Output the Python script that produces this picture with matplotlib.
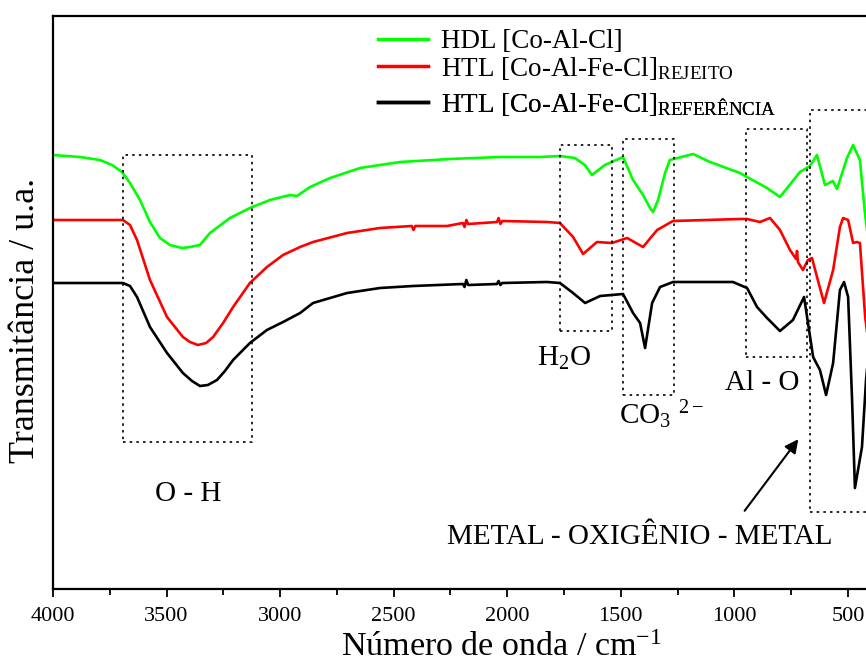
import matplotlib
matplotlib.use("Agg")
import matplotlib.pyplot as plt

plt.rcParams['font.family'] = ['Liberation Serif', 'DejaVu Serif']
plt.rcParams['mathtext.fontset'] = 'custom'
plt.rcParams['mathtext.rm'] = 'Liberation Serif'
plt.rcParams['mathtext.it'] = 'Liberation Serif:italic'

# ---- data (wavenumber cm-1, transmittance a.u.) ----
wn_hdl = [4000, 3881, 3793, 3740, 3696, 3661, 3617, 3573, 3529, 3485, 3432, 3397, 3353, 3309,
          3221, 3133, 3045, 2956, 2926, 2868, 2780, 2648, 2472, 2252, 2032, 1856, 1768,
          1702, 1658, 1627, 1570, 1490, 1446, 1402, 1371, 1358, 1336, 1305, 1284, 1182,
          1107, 975, 944, 856, 799, 711, 667, 636, 601, 566, 548, 504, 477, 447, 425, 400]
t_hdl = [434, 432, 429, 424, 417, 406, 389, 367, 351, 344, 341, 342, 344, 356,
         371, 381, 389, 394, 393, 402, 411, 421, 427, 430, 432, 432, 433,
         431, 424, 414, 424, 432, 409, 394, 381, 377, 389, 416, 429, 435,
         427, 416, 412, 401, 392, 417, 423, 434, 404, 408, 400, 431, 444, 429, 376, 330]

wn_rej = [4000, 3692, 3661, 3630, 3573, 3498, 3428, 3397, 3362, 3326, 3295, 3251, 3207, 3133,
          3058, 2987, 2912, 2855, 2705, 2560, 2420, 2413, 2405, 2265, 2195, 2188, 2180, 2172,
          2045, 2038, 2030, 2022, 1825, 1768, 1710, 1666, 1605, 1539, 1472, 1402, 1340, 1270,
          975, 944, 887, 843, 799, 755, 728, 724, 720, 698, 676, 658, 636, 605, 565, 535,
          521, 499, 477, 460, 447, 424, 400]
t_rej = [369, 369, 364, 349, 309, 272, 252, 247, 244, 246, 252, 266, 282, 306,
         322, 334, 342, 347, 356, 361, 363, 359, 363, 363, 366, 362, 369, 365,
         367, 371, 365, 368, 367, 366, 352, 335, 347, 346, 351, 342, 359, 368,
         370, 370, 367, 371, 359, 339, 330, 338, 327, 319, 329, 331, 312, 286, 319, 362,
         371, 369, 346, 347, 346, 272, 230]

wn_ref = [4000, 3692, 3661, 3630, 3573, 3498, 3428, 3388, 3353, 3318, 3278, 3243, 3207, 3133,
          3058, 2987, 2912, 2855, 2705, 2560, 2415, 2195, 2188, 2180, 2172, 2045, 2038, 2030,
          2022, 1825, 1768, 1710, 1657, 1591, 1490, 1446, 1415, 1393, 1362, 1327, 1270, 1006,
          944, 900, 856, 799, 742, 693, 653, 623, 596, 565, 535, 517, 499, 482, 469, 438,
          420, 400]
t_ref = [306, 306, 303, 292, 262, 236, 216, 208, 203, 204, 209, 218, 229, 246,
         259, 267, 276, 286, 296, 301, 303, 305, 302, 309, 304, 305, 308, 304,
         306, 307, 306, 296, 286, 293, 295, 276, 266, 241, 286, 302, 307, 307,
         301, 282, 271, 258, 269, 292, 232, 219, 194, 226, 299, 307, 292, 192, 101, 142,
         209, 259]

series_labels = ["HDL [Co-Al-Cl]",
                 r"HTL [Co-Al-Fe-Cl]$_{\mathregular{REJEITO}}$",
                 r"HTL [Co-Al-Fe-Cl]$_{\mathregular{REFERÊNCIA}}$"]
series_colors = ["#00ff00", "#ff0000", "#000000"]

# band boxes: (wn_left, wn_right, t_bottom, t_top)
box_oh = (3692, 3124, 147, 434)
box_h2o = (1768, 1539, 258, 444)
box_co3 = (1490, 1266, 194, 450)
box_alo = (949, 680, 232, 460)
box_metal = (667, 380, 77, 479)

band_labels = ["O - H", "H$_\\mathregular{2}$O", "CO$_\\mathregular{3}$ $^{\\mathregular{2-}}$",
               "Al - O", "METAL - OXIGÊNIO - METAL"]

fig = plt.figure(figsize=(8.66, 6.64), dpi=100)
ax = fig.add_axes([53/866, (664-589)/664, (870.6-53)/866, 573/664])

lines = []
for wn, t, lab, c in zip([wn_hdl, wn_rej, wn_ref], [t_hdl, t_rej, t_ref], series_labels, series_colors):
    ln, = ax.plot(wn, t, color=c, lw=1.9, label=lab, solid_joinstyle='round')
    lines.append(ln)

for (x0, x1, y0, y1) in [box_oh, box_h2o, box_co3, box_alo, box_metal]:
    ax.plot([x0, x1, x1, x0, x0], [y0, y0, y1, y1, y0], color='black',
            lw=1.2, linestyle=(0, (1.5, 2.5)))

fs_ann = 21
ax.text(3406, 95, band_labels[0], ha='center', va='center', fontsize=fs_ann)
ax.text(1752, 231, band_labels[1], ha='center', va='center', fontsize=fs_ann)
ax.text(1507, 174, band_labels[2], ha='left', va='center', fontsize=fs_ann)
ax.text(876, 206, band_labels[3], ha='center', va='center', fontsize=fs_ann)
ax.text(1415, 52, band_labels[4], ha='center', va='center', fontsize=fs_ann)
ax.annotate('', xy=(711, 152), xytext=(962, 76),
            arrowprops=dict(arrowstyle='-|>', color='black', lw=1.5, mutation_scale=20))

ax.set_xlim(4000, 400)
ax.set_ylim(0, 573)
ax.set_xticks([4000, 3500, 3000, 2500, 2000, 1500, 1000, 500])
ax.set_xticks([3750, 3250, 2750, 2250, 1750, 1250, 750], minor=True)
ax.tick_params(axis='x', which='major', direction='out', length=6, width=1.3, labelsize=16, pad=7)
ax.tick_params(axis='x', which='minor', direction='out', length=4, width=1.3)
ax.set_yticks([])
for s in ax.spines.values():
    s.set_linewidth(1.6)

ax.set_xlabel("Número de onda / cm$^{\\mathregular{-1}}$", fontsize=24.5)
ax.xaxis.set_label_coords(0.548, -0.075)
ax.set_ylabel("Transmitância / u.a.", fontsize=26)
ax.yaxis.set_label_coords(-0.014, 0.469)

# one legend per entry so the rows sit where they do in the reference
leg_y = [0.955, 0.909, 0.8464]
for ln, lab, y in zip(lines, series_labels, leg_y):
    lg = ax.legend([ln], [lab], loc='center left', bbox_to_anchor=(0.397, y), frameon=False,
                   fontsize=19.5, handlelength=1.85, handletextpad=0.5, borderaxespad=0,
                   borderpad=0)
    lg.legend_handles[0].set_linewidth(2.5)
    ax.add_artist(lg)

fig.savefig("out.png", dpi=100)
